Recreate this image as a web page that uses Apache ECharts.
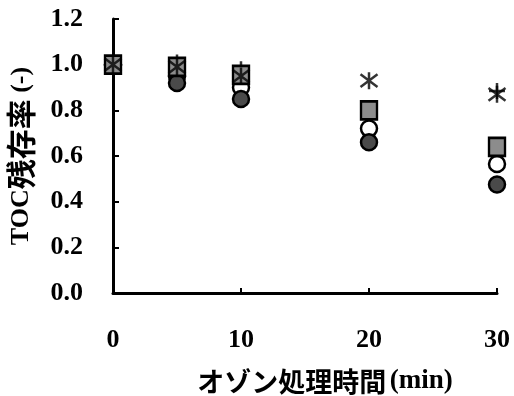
<!DOCTYPE html>
<html>
<head>
<meta charset="utf-8">
<script src="https://cdn.jsdelivr.net/npm/echarts@6/dist/echarts.min.js"></script>
<style>
  html, body { margin: 0; padding: 0; background: #fff; }
  #chart { width: 514px; height: 396px; }
</style>
</head>
<body>
<div id="chart"></div>
<script>
// Ozone treatment time (min)
const times = [0, 5, 10, 20, 30];
// Remaining TOC ratio for each sample
const seriesPlus = [1.00, 1.01, 0.98, 0.80, 0.885];
const seriesHollowCircle = [1.00, 0.95, 0.90, 0.72, 0.565];
const seriesDarkCircle = [1.00, 0.92, 0.85, 0.66, 0.475];
const seriesSquare = [1.00, 0.99, 0.955, 0.80, 0.64];
const seriesAsterisk = [1.00, 0.99, 0.95, 0.93, 0.87];

const xTicks = [0, 10, 20, 30];
const yTicks = [0, 0.2, 0.4, 0.6, 0.8, 1.0, 1.2];

const pair = arr => times.map((t, i) => [t, arr[i]]);

const serif = '"Liberation Serif", "Times New Roman", serif';
const cjk = '"Noto Sans CJK JP", sans-serif';

const ASTERISK = 'path://M2,2L14,14M14,2L2,14M8,0L8,16';
const PLUS = 'path://M8,0L8,16M0,8L16,8';

const chart = echarts.init(document.getElementById('chart'), null, { renderer: 'canvas' });
chart.setOption({
  animation: false,
  backgroundColor: '#fff',
  grid: { left: 113, top: 19, width: 384, height: 274, containLabel: false, outerBoundsMode: 'none' },
  xAxis: {
    type: 'value',
    min: xTicks[0],
    max: xTicks[xTicks.length - 1],
    interval: 10,
    splitLine: { show: false },
    axisLine: { lineStyle: { color: '#000', width: 3 } },
    axisTick: { inside: true, length: 5, lineStyle: { color: '#000', width: 2 } },
    axisLabel: {
      margin: 34,
      color: '#000',
      fontFamily: serif,
      fontWeight: 'bold',
      fontSize: 26
    },
    name: '{j|オゾン処理時間} {t|(min)}',
    nameLocation: 'middle',
    nameGap: 75,
    nameTextStyle: {
      padding: [0, 0, 0, 40],
      rich: {
        j: { fontFamily: cjk, fontWeight: 'bold', fontSize: 27, color: '#000' },
        t: { fontFamily: serif, fontWeight: 'bold', fontSize: 27, color: '#000' }
      }
    }
  },
  yAxis: {
    type: 'value',
    min: yTicks[0],
    max: yTicks[yTicks.length - 1],
    interval: 0.2,
    splitLine: { show: false },
    axisLine: { lineStyle: { color: '#000', width: 3 } },
    axisTick: { inside: true, length: 6, lineStyle: { color: '#000', width: 2 } },
    axisLabel: {
      margin: 30,
      color: '#000',
      fontFamily: serif,
      fontWeight: 'bold',
      fontSize: 26,
      formatter: v => v.toFixed(1)
    },
    name: '{t|TOC}{j|残存率}{t| (-)}',
    nameLocation: 'middle',
    nameRotate: 90,
    nameGap: 77,
    nameTextStyle: {
      rich: {
        t: { fontFamily: serif, fontWeight: 'bold', fontSize: 26, color: '#000' },
        j: { fontFamily: cjk, fontWeight: 'bold', fontSize: 30, color: '#000' }
      }
    }
  },
  series: [
    {
      type: 'scatter', data: pair(seriesPlus), symbol: PLUS, symbolSize: 16,
      itemStyle: { color: 'none', borderColor: '#000', borderWidth: 2.5 }
    },
    {
      type: 'scatter', data: pair(seriesHollowCircle), symbol: 'circle', symbolSize: 16,
      itemStyle: { color: '#fff', borderColor: '#000', borderWidth: 2.5, opacity: 1 }
    },
    {
      type: 'scatter', data: pair(seriesDarkCircle), symbol: 'circle', symbolSize: 16,
      itemStyle: { color: '#4a4a4a', borderColor: '#000', borderWidth: 2.5, opacity: 1 }
    },
    {
      type: 'scatter', data: pair(seriesSquare), symbol: 'rect', symbolSize: [16, 18],
      itemStyle: { color: '#8c8c8c', borderColor: '#000', borderWidth: 2.5, opacity: 1 }
    },
    {
      type: 'scatter', data: pair(seriesAsterisk), symbol: ASTERISK, symbolSize: 17,
      itemStyle: { color: 'none', borderColor: '#000', borderWidth: 2.5 }
    }
  ]
});
</script>
</body>
</html>
